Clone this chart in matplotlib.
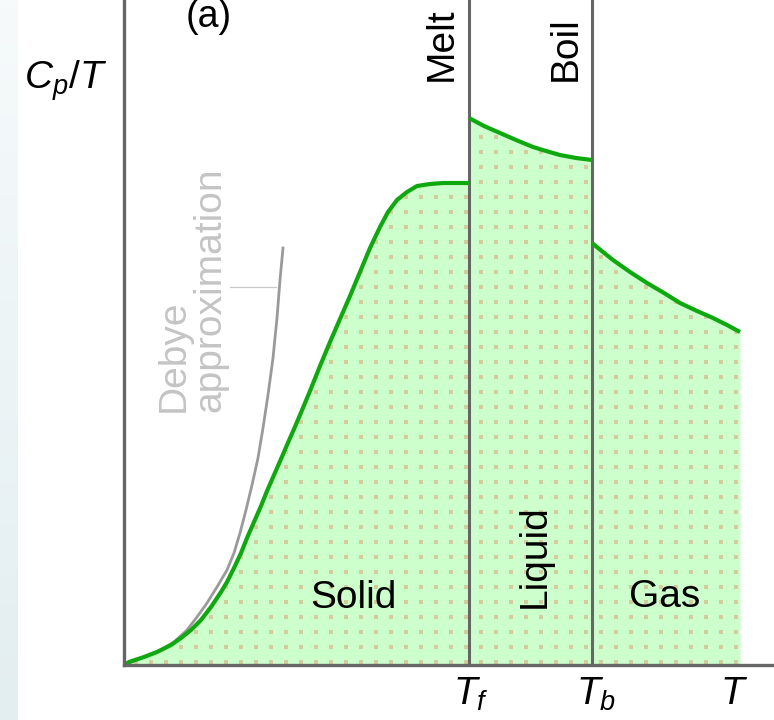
import numpy as np
import matplotlib
matplotlib.use('Agg')
import matplotlib.pyplot as plt

plt.rcParams['font.family'] = ['Liberation Sans', 'DejaVu Sans']
plt.rcParams['mathtext.fontset'] = 'custom'
plt.rcParams['mathtext.rm'] = 'Liberation Sans'
plt.rcParams['mathtext.it'] = 'Liberation Sans:italic'

# temperatura (unidades arbitrarias) y Cp/T
T_fus = 3.45
T_ebu = 4.68

solido_T = [0.0, 0.05, 0.20, 0.33, 0.47, 0.57, 0.67, 0.77, 0.87, 0.97, 1.03, 1.10,
            1.17, 1.23, 1.30, 1.37, 1.43, 1.50, 1.57, 1.63, 1.70, 1.76, 1.86, 1.96,
            2.06, 2.16, 2.26, 2.36, 2.46, 2.56, 2.64, 2.73, 2.83, 2.93, 3.06, 3.19, 3.45]
solido_cp = [0.0, 0.03, 0.08, 0.13, 0.20, 0.27, 0.35, 0.45, 0.58, 0.73, 0.83, 0.97,
             1.12, 1.27, 1.43, 1.59, 1.74, 1.90, 2.06, 2.20, 2.36, 2.50, 2.74, 2.99,
             3.23, 3.46, 3.69, 3.93, 4.17, 4.38, 4.53, 4.65, 4.73, 4.79, 4.81, 4.82, 4.82]

liquido_T = [3.45, 3.60, 3.76, 3.92, 4.09, 4.22, 4.36, 4.52, 4.68]
liquido_cp = [5.47, 5.39, 5.32, 5.25, 5.18, 5.14, 5.10, 5.07, 5.05]

gas_T = [4.68, 4.79, 4.89, 5.06, 5.23, 5.40, 5.56, 5.73, 5.89, 6.03, 6.16]
gas_cp = [4.22, 4.13, 4.05, 3.93, 3.82, 3.72, 3.62, 3.54, 3.47, 3.40, 3.33]

debye_T = [0.0, 0.20, 0.37, 0.50, 0.63, 0.73, 0.83, 0.93, 1.03, 1.10, 1.16, 1.22,
           1.28, 1.34, 1.39, 1.44, 1.49, 1.53, 1.56, 1.59]
debye_cp = [0.0, 0.08, 0.15, 0.23, 0.35, 0.48, 0.62, 0.78, 0.95, 1.12, 1.32, 1.55,
            1.80, 2.07, 2.37, 2.70, 3.07, 3.47, 3.85, 4.17]

etiquetas_x = [r'$T_f$', r'$T_b$', r'$T$']
pos_etiquetas = [3.47, 4.72, 6.10]

gris = '#666666'
verde = '#0fa80f'
relleno = '#ccffcc'
punto = '#d4cc9c'


def main():
    fig = plt.figure(figsize=(7.74, 7.2), dpi=100)

    # franja azulada a la izquierda
    ax_f = fig.add_axes([0, 0, 18 / 774, 1])
    grad = np.linspace(0, 1, 100).reshape(-1, 1)
    ax_f.imshow(grad, aspect='auto', cmap=matplotlib.colors.LinearSegmentedColormap.from_list(
        'f', ['#f6fafb', '#e3eef1']))
    ax_f.axis('off')

    ax = fig.add_axes([124 / 774, 55 / 720, 650 / 774, 665 / 720])
    ax.set_xlim(0, 6.5)
    ax.set_ylim(0, 6.65)

    # relleno por fase + puntos
    for xs, ys in [(solido_T, solido_cp), (liquido_T, liquido_cp), (gas_T, gas_cp)]:
        poly = ax.fill_between(xs, ys, 0, color=relleno, lw=0, zorder=1)
        gx, gy = np.meshgrid(np.arange(0.12, 6.5, 0.15), np.arange(0.03, 6.6, 0.15))
        m = (gx > xs[0]) & (gx < xs[-1])
        sc = ax.scatter(gx[m], gy[m], s=8, marker='s', color=punto, lw=0, zorder=2)
        sc.set_clip_path(poly.get_paths()[0], poly.get_transform())

    ax.axvline(T_fus, color=gris, lw=2.2, zorder=3)
    ax.axvline(T_ebu, color=gris, lw=2.2, zorder=3)

    ax.plot(debye_T, debye_cp, color='#9a9a9a', lw=2.0, zorder=3)
    ax.plot([1.06, 1.52], [3.78, 3.78], color='#c8c8c8', lw=0.9, zorder=3)

    for xs, ys in [(solido_T, solido_cp), (liquido_T, liquido_cp), (gas_T, gas_cp)]:
        ax.plot(xs, ys, color=verde, lw=3.0, zorder=4, solid_capstyle='butt')

    for lado in ['top', 'right']:
        ax.spines[lado].set_visible(False)
    for lado in ['left', 'bottom']:
        ax.spines[lado].set_color(gris)
        ax.spines[lado].set_linewidth(2.4)
        ax.spines[lado].set_zorder(5)

    ax.set_yticks([])
    ax.set_xticks(pos_etiquetas)
    ax.set_xticklabels(etiquetas_x, fontsize=28)
    ax.tick_params(axis='x', length=0, pad=8)

    ax.text(2.29, 0.67, 'Solid', fontsize=28, ha='center', va='center', zorder=6)
    ax.text(5.41, 0.68, 'Gas', fontsize=28, ha='center', va='center', zorder=6)
    ax.text(4.11, 1.09, 'Liquid', fontsize=28, ha='center', va='center', rotation=90, zorder=6)
    ax.text(3.18, 5.84, 'Melt', fontsize=28, ha='center', va='bottom', rotation=90)
    ax.text(4.42, 5.84, 'Boil', fontsize=28, ha='center', va='bottom', rotation=90)
    ax.text(0.85, 6.48, '(a)', fontsize=27, ha='center', va='center')
    ax.text(0.68, 2.53, 'Debye\napproximation', fontsize=28, color='#c4c4c4',
            ha='center', va='bottom', rotation=90, multialignment='left', linespacing=1.0)

    fig.text(66 / 774, 1 - 81 / 720, r'$C_p/T$', fontsize=28, ha='center', va='center')

    fig.savefig('out.png', dpi=100)


if __name__ == "__main__":
    main()
